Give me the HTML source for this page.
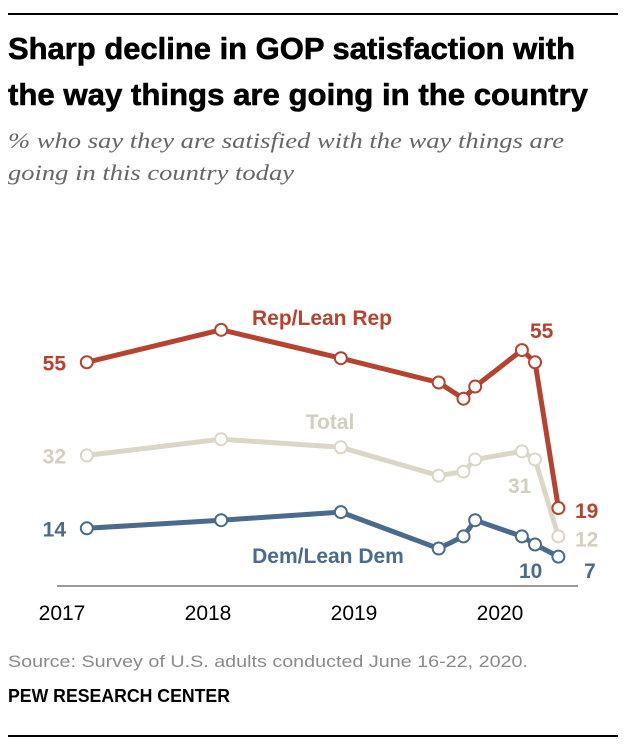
<!DOCTYPE html>
<html><head><meta charset="utf-8"><style>
html,body{margin:0;padding:0;background:#fff;}
svg{display:block;font-family:"Liberation Sans",sans-serif;}
</style></head><body>
<svg id="chart" width="626" height="748" viewBox="0 0 626 748">
<line x1="8" y1="14" x2="618" y2="14" stroke="#000" stroke-width="2"/>
<text x="8" y="59" font-size="31" font-weight="bold" stroke="#000" stroke-width="0.6" textLength="567" lengthAdjust="spacingAndGlyphs" font-family="'Liberation Sans Narrow','Liberation Sans',sans-serif">Sharp decline in GOP satisfaction with</text>
<text x="8" y="105" font-size="31" font-weight="bold" stroke="#000" stroke-width="0.6" textLength="580" lengthAdjust="spacingAndGlyphs" font-family="'Liberation Sans Narrow','Liberation Sans',sans-serif">the way things are going in the country</text>
<text x="8" y="148" font-size="22" font-style="italic" fill="#666" font-family="'Liberation Serif',serif" textLength="556" lengthAdjust="spacingAndGlyphs">% who say they are satisfied with the way things are</text>
<text x="8" y="180" font-size="22" font-style="italic" fill="#666" font-family="'Liberation Serif',serif" textLength="286" lengthAdjust="spacingAndGlyphs">going in this country today</text>
<line x1="57" y1="586" x2="578" y2="586" stroke="#999" stroke-width="2"/>
<g id="ticks"></g>
<g id="series"></g>
<g id="labels" font-weight="bold" font-size="21"></g>
<text x="8" y="667" font-size="16.5" fill="#8a8a8a" textLength="520" lengthAdjust="spacingAndGlyphs">Source: Survey of U.S. adults conducted June 16-22, 2020.</text>
<text x="8" y="702" font-size="18" font-weight="bold" fill="#000" textLength="222" lengthAdjust="spacingAndGlyphs" font-family="'Liberation Sans Narrow','Liberation Sans',sans-serif">PEW RESEARCH CENTER</text>
<line x1="8" y1="736" x2="618" y2="736" stroke="#000" stroke-width="2"/>
</svg>
<script>
const dates = [2017.17, 2018.09, 2018.91, 2019.58, 2019.75, 2019.83, 2020.15, 2020.24, 2020.40];
const repValues = [55, 63, 56, 50, 46, 49, 58, 55, 19];
const totalValues = [32, 36, 34, 27, 28, 31, 33, 31, 12];
const demValues = [14, 16, 18, 9, 12, 16, 12, 10, 7];
const yearTicks = [2017, 2018, 2019, 2020];

const NS = "http://www.w3.org/2000/svg";
function xs(d){ return 62 + (d - 2017) * 146; }
function ys(v){ return 585 - v * 4.05; }
function mk(tag, attrs, parent){
  const el = document.createElementNS(NS, tag);
  for (const k in attrs) el.setAttribute(k, attrs[k]);
  parent.appendChild(el);
  return el;
}
const tickG = document.getElementById('ticks');
yearTicks.forEach(y => {
  const t = mk('text', {x: xs(y), y: 620, 'font-size': 21, 'text-anchor': 'middle', fill: '#000'}, tickG);
  
  
  t.textContent = y;
});
const seriesG = document.getElementById('series');
function drawSeries(vals, color, name){
  const g = mk('g', {}, seriesG);
  
  
  const pts = vals.map((v, i) => xs(dates[i]) + ',' + ys(v)).join(' ');
  const pl = mk('polyline', {points: pts, fill: 'none', stroke: color, 'stroke-width': 5, 'stroke-linejoin': 'round'}, g);
  
  
  vals.forEach((v, i) => {
    const c = mk('circle', {cx: xs(dates[i]), cy: ys(v), r: 6, fill: '#fff', stroke: color, 'stroke-width': 2}, g);
    
    
  });
}
drawSeries(totalValues, '#dbd7c8', 'total');
drawSeries(demValues, '#4a6b8c', 'dem-lean-dem');
drawSeries(repValues, '#b5432f', 'rep-lean-rep');

const labG = document.getElementById('labels');
function lab(txt, x, y, color, anchor, name){
  const t = mk('text', {x: x, y: y, fill: color, 'text-anchor': anchor}, labG);
  
  
  t.textContent = txt;
}
const R = '#b5432f', T = '#d3cebd', D = '#4a6b8c';
lab('Rep/Lean Rep', 322, 325, R, 'middle', 'rep-series-label');
lab('Total', 330, 429, T, 'middle', 'total-series-label');
lab('Dem/Lean Dem', 328, 563, D, 'middle', 'dem-series-label');
lab(repValues[0], 66, ys(repValues[0]) + 8, R, 'end', 'rep-first-value');
lab(totalValues[0], 66, ys(totalValues[0]) + 8, T, 'end', 'total-first-value');
lab(demValues[0], 66, ys(demValues[0]) + 8, D, 'end', 'dem-first-value');
lab(repValues[7], 530, 338, R, 'start', 'rep-peak-value');
lab(repValues[8], 575, ys(repValues[8]) + 10, R, 'start', 'rep-last-value');
lab(totalValues[7], 508, 493, T, 'start', 'total-prev-value');
lab(totalValues[8], 575, ys(totalValues[8]) + 10, T, 'start', 'total-last-value');
lab(demValues[7], 519, 578, D, 'start', 'dem-prev-value');
lab(demValues[8], 584, 578, D, 'start', 'dem-last-value');
</script>
</body></html>
